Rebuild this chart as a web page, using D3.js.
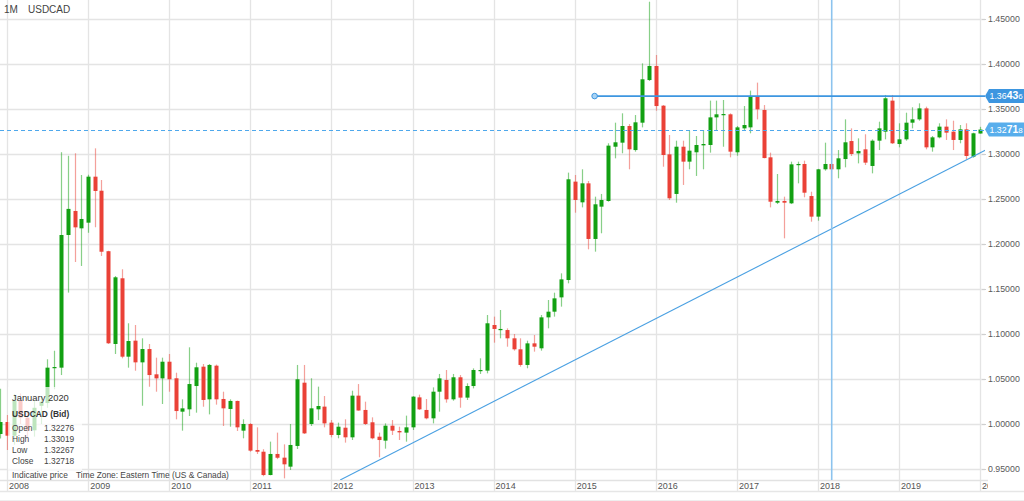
<!DOCTYPE html>
<html><head><meta charset="utf-8">
<script src="https://cdn.jsdelivr.net/npm/d3@7/dist/d3.min.js"></script>
<style>
html,body{margin:0;padding:0;background:#fff;}
svg{display:block;font-family:"Liberation Sans",Arial,sans-serif;}
</style></head>
<body><svg id="c" width="1024" height="501"></svg>
<script>
// ---- DATA (label month as shown by the chart, OHLC) ----
const months = [
"2007-12",
"2008-01","2008-02","2008-03","2008-04","2008-05","2008-06","2008-07","2008-08","2008-09","2008-10","2008-11","2008-12",
"2009-01","2009-02","2009-03","2009-04","2009-05","2009-06","2009-07","2009-08","2009-09","2009-10","2009-11","2009-12",
"2010-01","2010-02","2010-03","2010-04","2010-05","2010-06","2010-07","2010-08","2010-09","2010-10","2010-11","2010-12",
"2011-01","2011-02","2011-03","2011-04","2011-05","2011-06","2011-07","2011-08","2011-09","2011-10","2011-11","2011-12",
"2012-01","2012-02","2012-03","2012-04","2012-05","2012-06","2012-07","2012-08","2012-09","2012-10","2012-11","2012-12",
"2013-01","2013-02","2013-03","2013-04","2013-05","2013-06","2013-07","2013-08","2013-09","2013-10","2013-11","2013-12",
"2014-01","2014-02","2014-03","2014-04","2014-05","2014-06","2014-07","2014-08","2014-09","2014-10","2014-11","2014-12",
"2015-01","2015-02","2015-03","2015-04","2015-05","2015-06","2015-07","2015-08","2015-09","2015-10","2015-11","2015-12",
"2016-01","2016-02","2016-03","2016-04","2016-05","2016-06","2016-07","2016-08","2016-09","2016-10","2016-11","2016-12",
"2017-01","2017-02","2017-03","2017-04","2017-05","2017-06","2017-07","2017-08","2017-09","2017-10","2017-11","2017-12",
"2018-01","2018-02","2018-03","2018-04","2018-05","2018-06","2018-07","2018-08","2018-09","2018-10","2018-11","2018-12",
"2019-01","2019-02","2019-03","2019-04","2019-05","2019-06","2019-07","2019-08","2019-09","2019-10","2019-11","2019-12",
"2020-01"];
const opens = [
0.9889,
1.0022,0.9870,1.0260,1.0070,0.9930,1.0202,1.0233,1.0626,1.0626,1.2100,1.2367,1.2174,
1.2237,1.2748,1.2592,1.1920,1.0889,1.1619,1.0748,1.0926,1.0685,1.0833,1.0552,1.0507,
1.0692,1.0508,1.0137,1.0163,1.0422,1.0637,1.0274,1.0648,1.0278,1.0167,1.0256,0.9926,
1.0000,0.9711,0.9692,0.9433,0.9667,0.9626,0.9526,0.9756,1.0459,1.0000,1.0163,1.0193,
1.0015,0.9878,0.9959,0.9852,1.0315,1.0156,1.0019,0.9859,0.9815,0.9981,0.9922,0.9904,
0.9963,1.0296,1.0156,1.0063,1.0359,1.0489,1.0274,1.0519,1.0293,1.0422,1.0589,1.0593,
1.1100,1.1048,1.1044,1.0952,1.0830,1.0656,1.0896,1.0841,1.1185,1.1248,1.1407,1.1600,
1.2693,1.2463,1.2674,1.2056,1.2415,1.2478,1.3081,1.3126,1.3311,1.3044,1.3348,1.3822,
1.3978,1.3537,1.2996,1.2556,1.3081,1.2915,1.3019,1.3096,1.3100,1.3407,1.3433,1.3441,
1.3019,1.3285,1.3296,1.3637,1.3489,1.2963,1.2459,1.2478,1.2452,1.2878,1.2889,1.2533,
1.2304,1.2830,1.2889,1.2830,1.2944,1.3144,1.3007,1.3052,1.2867,1.3148,1.3248,1.3593,
1.3111,1.3163,1.3348,1.3385,1.3507,1.3074,1.3185,1.3304,1.3248,1.3156,1.3274,1.2970,
1.32276];
const highs = [
1.0393,
1.0100,1.0330,1.0340,1.0140,1.0260,1.0310,1.0719,1.0814,1.3020,1.2980,1.3008,1.2767,
1.2770,1.3063,1.2711,1.1925,1.1644,1.1719,1.1119,1.1100,1.0952,1.0889,1.0737,1.0737,
1.0778,1.0570,1.0274,1.0852,1.0681,1.0667,1.0667,1.0660,1.0359,1.0274,1.0260,1.0052,
1.0010,0.9963,0.9720,0.9804,0.9904,0.9774,1.0000,1.0656,1.0656,1.0508,1.0415,1.0311,
1.0044,1.0015,1.0052,1.0370,1.0444,1.0248,1.0074,0.9904,1.0007,1.0044,0.9970,1.0093,
1.0310,1.0326,1.0278,1.0407,1.0556,1.0600,1.0556,1.0544,1.0452,1.0618,1.0730,1.1211,
1.1193,1.1267,1.1063,1.1000,1.0952,1.0926,1.0989,1.1211,1.1378,1.1459,1.1674,1.2793,
1.2767,1.2830,1.2700,1.2526,1.2556,1.3119,1.3348,1.3452,1.3333,1.3433,1.4007,1.4692,
1.4100,1.3544,1.3211,1.3148,1.3148,1.3256,1.3200,1.3267,1.3593,1.3593,1.3600,1.3452,
1.3311,1.3533,1.3704,1.3793,1.3544,1.3015,1.2778,1.2526,1.2915,1.2915,1.2926,1.2581,
1.2835,1.3126,1.2896,1.3044,1.3385,1.3285,1.3174,1.3219,1.3163,1.3359,1.3656,1.3656,
1.3341,1.3459,1.3519,1.3563,1.3526,1.3200,1.3341,1.3385,1.3370,1.3322,1.3341,1.3237,
1.33019];
const lows = [
0.9840,
0.9711,0.9770,1.0000,0.9850,0.9860,1.0000,1.0180,1.0386,1.0544,1.1460,1.1800,1.1756,
1.2125,1.2186,1.1867,1.0889,1.0778,1.0730,1.0626,1.0592,1.0203,1.0414,1.0359,1.0222,
1.0359,1.0052,0.9926,1.0089,1.0126,1.0192,1.0107,1.0215,0.9978,0.9970,0.9922,0.9841,
0.9692,0.9667,0.9420,0.9430,0.9610,0.9396,0.9489,0.9722,0.9889,0.9978,1.0044,0.9963,
0.9852,0.9841,0.9793,0.9822,1.0148,0.9989,0.9830,0.9630,0.9726,0.9878,0.9822,0.9804,
0.9933,1.0156,1.0052,1.0007,1.0137,1.0237,1.0259,1.0181,1.0267,1.0396,1.0556,1.0563,
1.0904,1.0952,1.0859,1.0815,1.0637,1.0619,1.0804,1.0815,1.1063,1.1193,1.1304,1.1563,
1.2348,1.2407,1.1941,1.1915,1.2119,1.2470,1.2952,1.3008,1.2830,1.3026,1.3296,1.3811,
1.3481,1.2859,1.2489,1.2459,1.2656,1.2830,1.2756,1.2830,1.3015,1.3259,1.3081,1.2963,
1.2981,1.3267,1.3230,1.3385,1.2952,1.2407,1.2444,1.2063,1.2444,1.2674,1.2519,1.2248,
1.2259,1.2815,1.2526,1.2730,1.2852,1.2978,1.2896,1.2878,1.2785,1.3044,1.3163,1.3111,
1.3074,1.3148,1.3285,1.3370,1.3052,1.3026,1.3174,1.3156,1.3044,1.3119,1.2941,1.2959,
1.32267];
const closes = [
1.0022,
0.9870,1.0260,1.0070,0.9930,1.0180,1.0247,1.0626,1.0633,1.2100,1.2390,1.2185,1.2278,
1.2748,1.2589,1.1914,1.0897,1.1630,1.0748,1.0922,1.0685,1.0833,1.0544,1.0507,1.0692,
1.0497,1.0144,1.0174,1.0444,1.0630,1.0267,1.0656,1.0274,1.0174,1.0256,0.9963,1.0000,
0.9704,0.9692,0.9433,0.9667,0.9625,0.9552,0.9767,1.0497,0.9896,1.0174,1.0200,1.0007,
0.9878,0.9970,0.9852,1.0315,1.0150,1.0000,0.9841,0.9822,0.9981,0.9926,0.9907,0.9963,
1.0304,1.0163,1.0063,1.0359,1.0507,1.0274,1.0519,1.0293,1.0422,1.0600,1.0600,1.1119,
1.1056,1.1056,1.0952,1.0830,1.0656,1.0896,1.0859,1.1185,1.1248,1.1396,1.1607,1.2719,
1.2489,1.2674,1.2056,1.2441,1.2489,1.3093,1.3130,1.3311,1.3052,1.3352,1.3830,1.3978,
1.3533,1.2989,1.2508,1.3081,1.2915,1.3037,1.3100,1.3111,1.3407,1.3441,1.3444,1.3026,
1.3296,1.3322,1.3637,1.3496,1.2955,1.2470,1.2478,1.2459,1.2885,1.2889,1.2570,1.2304,
1.2830,1.2889,1.2830,1.2952,1.3130,1.3000,1.3033,1.2904,1.3148,1.3285,1.3619,1.3119,
1.3163,1.3348,1.3385,1.3507,1.3074,1.3185,1.3304,1.3237,1.3156,1.3274,1.2978,1.3230,
1.32718];
const yTicks = [0.95,1.00,1.05,1.10,1.15,1.20,1.25,1.30,1.35,1.40,1.45];
const resistance = {start:"2015-04-01", value:1.36436};
const lastPrice = 1.32718;
const crosshairDate = "2018-03-04";
const trendLine = [["2012-02-10",0.9378],["2020-02-05",1.3056]];
const tipTitle = "January 2020";
const tipSymbol = "USDCAD (Bid)";
const tipRows = [["Open","1.32276"],["High","1.33019"],["Low","1.32267"],["Close","1.32718"]];

// ---- CHART ----
const svg = d3.select("#c");
const plotR = 985, plotB = 480;
const parse = d3.utcParse("%Y-%m"), parseD = d3.utcParse("%Y-%m-%d");
const x = d3.scaleUtc().domain([Date.UTC(2008,0,1), Date.UTC(2020,0,1)]).range([7,980]);
const y = d3.scaleLinear().domain([0.95,1.45]).range([469,19]);
const data = months.map((m,i)=>({d:parse(m),o:opens[i],h:highs[i],l:lows[i],c:closes[i]}));

svg.append("defs").append("clipPath").attr("id","clip")
  .append("rect").attr("x",0).attr("y",0).attr("width",plotR).attr("height",plotB);
svg.append("defs").append("clipPath").attr("id","clipx")
  .append("rect").attr("x",0).attr("y",0).attr("width",988).attr("height",501);

const grid = svg.append("g");
grid.selectAll("line.h").data(yTicks).join("line")
  .attr("x1",0).attr("x2",plotR).attr("y1",d=>Math.round(y(d))+0.5).attr("y2",d=>Math.round(y(d))+0.5)
  .attr("stroke","#e4e4e4").attr("stroke-width",1.3);
const years = x.ticks(d3.utcYear.every(1));
grid.selectAll("line.v").data(years).join("line")
  .attr("x1",d=>Math.round(x(d))+0.5).attr("x2",d=>Math.round(x(d))+0.5).attr("y1",0).attr("y2",491)
  .attr("stroke","#e4e4e4").attr("stroke-width",1.3).attr("clip-path","url(#clipx)");
grid.append("line").attr("x1",0).attr("x2",988).attr("y1",480.5).attr("y2",480.5).attr("stroke","#e2e2e2").attr("stroke-width",1.3);
grid.append("line").attr("x1",0).attr("x2",1024).attr("y1",491.5).attr("y2",491.5).attr("stroke","#e6e6e6").attr("stroke-width",1.3);
grid.append("line").attr("x1",0).attr("x2",1024).attr("y1",500.5).attr("y2",500.5).attr("stroke","#eeeeee").attr("stroke-width",1);

const yAxis = d3.axisRight(y).tickValues(yTicks).tickFormat(d3.format(".5f")).tickSize(4).tickPadding(2);
const gy = svg.append("g").attr("transform",`translate(${plotR-3},0)`).call(yAxis);
gy.select(".domain").remove();
gy.selectAll(".tick line").attr("stroke","#cfcfcf");
gy.selectAll(".tick text").attr("fill","#5a5a5a").attr("font-size","8.8px").attr("font-family","Liberation Sans, Arial, sans-serif");

const xAxis = d3.axisBottom(x).ticks(d3.utcYear.every(1)).tickFormat(d3.utcFormat("%Y")).tickSize(0);
const gx = svg.append("g").attr("transform",`translate(0,${plotB})`).attr("clip-path","url(#clipx)").call(xAxis);
gx.select(".domain").remove();
gx.selectAll(".tick text").attr("text-anchor","start").attr("x",1.5).attr("y",2.5).attr("dy","0.71em")
  .attr("fill","#555").attr("font-size","9px").attr("font-family","Liberation Sans, Arial, sans-serif");

const plot = svg.append("g").attr("clip-path","url(#clip)");
const GREEN="#12a012", RED="#ea4137";
const bw = 4;
const cs = plot.append("g").selectAll("g").data(data).join("g");
cs.append("line")
  .attr("x1",d=>Math.round(x(d.d))+0.5).attr("x2",d=>Math.round(x(d.d))+0.5)
  .attr("y1",d=>y(d.h)).attr("y2",d=>y(d.l))
  .attr("stroke",d=>d.c>=d.o?GREEN:RED).attr("stroke-opacity",0.5).attr("stroke-width",1.2);
cs.append("rect")
  .attr("x",d=>Math.round(x(d.d))+0.5-bw/2).attr("width",bw)
  .attr("y",d=>y(Math.max(d.o,d.c)))
  .attr("height",d=>Math.max(1.2,Math.abs(y(d.o)-y(d.c))))
  .attr("fill",d=>d.c>=d.o?GREEN:RED);

plot.append("line")
  .attr("x1",x(parseD(trendLine[0][0]))).attr("y1",y(trendLine[0][1]))
  .attr("x2",x(parseD(trendLine[1][0]))).attr("y2",y(trendLine[1][1]))
  .attr("stroke","#4aa0e2").attr("stroke-width",1.1);
plot.append("line")
  .attr("x1",x(parseD(crosshairDate))).attr("x2",x(parseD(crosshairDate)))
  .attr("y1",0).attr("y2",plotB).attr("stroke","#8cc3ee").attr("stroke-width",1.6);
plot.append("line").attr("x1",0).attr("x2",plotR).attr("y1",Math.round(y(lastPrice))+0.5).attr("y2",Math.round(y(lastPrice))+0.5)
  .attr("stroke","#4ea8ec").attr("stroke-width",1.1).attr("stroke-dasharray","4,3");
plot.append("line").attr("x1",x(parseD(resistance.start))).attr("x2",plotR)
  .attr("y1",y(resistance.value)).attr("y2",y(resistance.value))
  .attr("stroke","#3d96e0").attr("stroke-width",1.8);
plot.append("circle").attr("cx",x(parseD(resistance.start))).attr("cy",y(resistance.value)).attr("r",2.8)
  .attr("fill","#a9d3f4").attr("stroke","#3d96e0").attr("stroke-width",1);

function priceTag(v, fill){
  const yy = y(v);
  const g = svg.append("g");
  g.append("path").attr("d",`M${plotR},${yy} L${plotR+4},${yy-7} L1024,${yy-7} L1024,${yy+7} L${plotR+4},${yy+7} Z`).attr("fill",fill);
  const s = d3.format(".5f")(v);
  const t = g.append("text").attr("x",plotR+4.5).attr("y",yy).attr("dy","0.36em").attr("fill","#fff").attr("font-size","8.8px");
  t.append("tspan").text(s.slice(0,4));
  t.append("tspan").attr("font-weight","bold").attr("font-size","10.4px").text(s.slice(4,6));
  t.append("tspan").attr("font-size","8px").text(s.slice(6));
}
priceTag(resistance.value, "#3d96e0");
priceTag(lastPrice, "#58aeec");

svg.append("text").attr("x",4).attr("y",13).attr("font-size","10px").attr("fill","#444").text("1M");
svg.append("text").attr("x",28).attr("y",13).attr("font-size","10px").attr("fill","#444").text("USDCAD");

svg.append("rect").attr("x",8).attr("y",387).attr("width",74).attr("height",83).attr("fill","#fff").attr("fill-opacity",0.72);
svg.append("text").attr("x",12).attr("y",401).attr("font-size","9.4px").attr("fill","#333").text(tipTitle);
svg.append("text").attr("x",12).attr("y",417).attr("font-size","8.4px").attr("font-weight","bold").attr("fill","#333").text(tipSymbol);
tipRows.forEach((r,i)=>{
  svg.append("text").attr("x",12).attr("y",430.5+i*11.3).attr("font-size","8.4px").attr("fill","#444").text(r[0]);
  svg.append("text").attr("x",44).attr("y",430.5+i*11.3).attr("font-size","8.4px").attr("fill","#444").text(r[1]);
});
svg.append("text").attr("x",12).attr("y",478).attr("font-size","8.4px").attr("fill","#444").text("Indicative price");
svg.append("text").attr("x",76).attr("y",478).attr("font-size","8.4px").attr("fill","#444").text("Time Zone: Eastern Time (US & Canada)");
</script>
</body></html>
